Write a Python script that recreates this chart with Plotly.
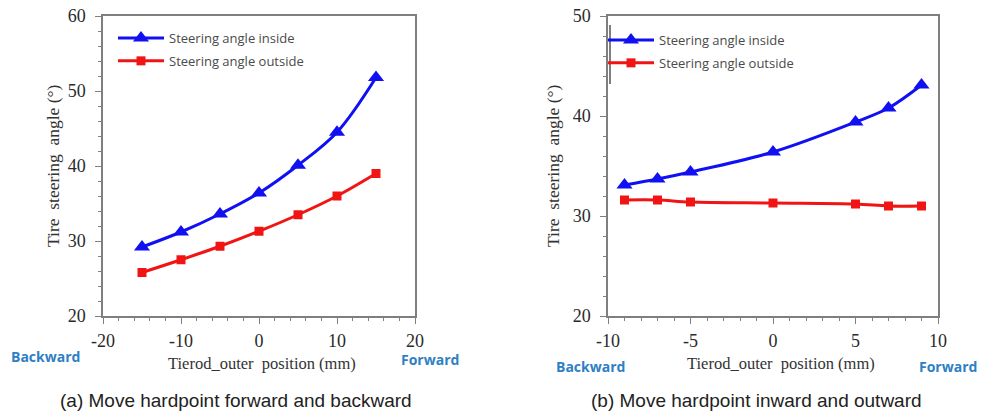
import plotly.graph_objects as go

# Panel (a): tie-rod outer point moved forward / backward
pos_a = [-15, -10, -5, 0, 5, 10, 15]
inside_a = [29.2, 31.2, 33.6, 36.4, 40.1, 44.5, 51.8]
outside_a = [25.8, 27.5, 29.3, 31.3, 33.5, 36.0, 39.0]

# Panel (b): tie-rod outer point moved inward / outward
pos_b = [-9, -7, -5, 0, 5, 7, 9]
inside_b = [33.1, 33.7, 34.4, 36.4, 39.4, 40.8, 43.1]
outside_b = [31.6, 31.6, 31.4, 31.3, 31.2, 31.0, 31.0]

# Axis ticks
xticks_a = [-20, -10, 0, 10, 20]
yticks_a = [20, 30, 40, 50, 60]
xticks_b = [-10, -5, 0, 5, 10]
yticks_b = [20, 30, 40, 50]

W, H = 981, 415
BLUE = "#1010f2"
RED = "#f01414"
LABEL_BLUE = "#2e7fc4"
AXIS_GRAY = "#7f7f7f"
SERIF = "Liberation Serif, Times New Roman, serif"
LEGEND_FONT = dict(family="Open Sans, sans-serif", size=13, color="#4a4a4a")


def px(x):
    return x / W


def py(y):
    return 1 - y / H


fig = go.Figure()

for xs, ins, outs, xa, ya, lg in [
    (pos_a, inside_a, outside_a, "x", "y", "legend"),
    (pos_b, inside_b, outside_b, "x2", "y2", "legend2"),
]:
    fig.add_trace(go.Scatter(
        x=xs, y=ins, name="Steering angle inside", mode="lines+markers",
        line=dict(color=BLUE, width=3, shape="spline", smoothing=1.0),
        marker=dict(symbol="triangle-up", size=14, color=BLUE),
        xaxis=xa, yaxis=ya, legend=lg, legendgroup=lg + "in",
    ))
    fig.add_trace(go.Scatter(
        x=xs, y=outs, name="Steering angle outside", mode="lines+markers",
        line=dict(color=RED, width=3, shape="spline", smoothing=1.0),
        marker=dict(symbol="square", size=9, color=RED),
        xaxis=xa, yaxis=ya, legend=lg, legendgroup=lg + "out",
    ))

axis_common = dict(
    showline=True, linecolor=AXIS_GRAY, linewidth=1.5, mirror=True,
    showgrid=False, zeroline=False, automargin=False,
    ticks="outside", ticklen=6, tickwidth=1, tickcolor=AXIS_GRAY,
    tickfont=dict(family=SERIF, size=18, color="#2a2a2a"),
)
minor_common = dict(ticks="outside", ticklen=3, tickwidth=1, tickcolor=AXIS_GRAY, showgrid=False)


def ticks(vals):
    return dict(tickmode="array", tickvals=vals, ticktext=[str(v) for v in vals])


y_dom = [py(316), py(16)]

legend_common = dict(xanchor="left", yanchor="top", bgcolor="rgba(0,0,0,0)",
                     borderwidth=0, itemwidth=46, traceorder="grouped",
                     tracegroupgap=3, itemclick=False, font=LEGEND_FONT)

fig.update_layout(
    width=W, height=H,
    margin=dict(l=0, r=0, t=0, b=0, pad=0, autoexpand=False),
    paper_bgcolor="white", plot_bgcolor="white",
    showlegend=True,
    xaxis=dict(domain=[px(103), px(415)], range=[-20, 20], **ticks(xticks_a),
               minor=dict(dtick=2, tick0=-20, **minor_common), anchor="y",
               ticklabelstandoff=2, **axis_common),
    yaxis=dict(domain=y_dom, range=[20, 60], **ticks(yticks_a),
               minor=dict(dtick=2, tick0=20, **minor_common), anchor="x",
               ticklabelstandoff=6, **axis_common),
    xaxis2=dict(domain=[px(608), px(938)], range=[-10, 10], **ticks(xticks_b),
                minor=dict(dtick=1, tick0=-10, **minor_common), anchor="y2",
                ticklabelstandoff=2, **axis_common),
    yaxis2=dict(domain=y_dom, range=[20, 50], **ticks(yticks_b),
                minor=dict(dtick=2, tick0=20, **minor_common), anchor="x2",
                ticklabelstandoff=6, **axis_common),
    legend=dict(x=px(113), y=py(23), **legend_common),
    legend2=dict(x=px(603), y=py(25), **legend_common),
)

annotations = []


def note(cx, cy, text, font, angle=0):
    annotations.append(dict(
        x=px(cx), y=py(cy), xref="paper", yref="paper", showarrow=False,
        xanchor="center", yanchor="middle", text=text, textangle=angle, font=font,
    ))


# y-axis titles
for cx in (53, 553):
    note(cx, 166, "Tire  steering  angle (°)", dict(family=SERIF, size=17.5, color="#333333"), -90)
# x-axis titles
for cx in (262, 781):
    note(cx, 363, "Tierod_outer  position (mm)", dict(family=SERIF, size=16.5, color="#333333"))
# direction hints
for cx, cy, txt in [(45, 356, "Backward"), (430, 359, "Forward"),
                    (590, 366, "Backward"), (948, 366, "Forward")]:
    note(cx, cy, "<b>" + txt + "</b>",
         dict(family="Open Sans, sans-serif", size=14, color=LABEL_BLUE))
# captions
for cx, txt in [(236, "(a) Move hardpoint forward and backward"),
                (756, "(b) Move hardpoint inward and outward")]:
    note(cx, 400, txt, dict(family="Liberation Sans, Arial, sans-serif", size=19, color="#222222"))

fig.update_layout(annotations=annotations)

# short dark stroke at the left edge of the second legend area
fig.add_shape(type="line", xref="paper", yref="paper",
              x0=px(610), x1=px(610), y0=py(25), y1=py(84),
              line=dict(color="#555555", width=1.5))

fig.write_html("out.html")
